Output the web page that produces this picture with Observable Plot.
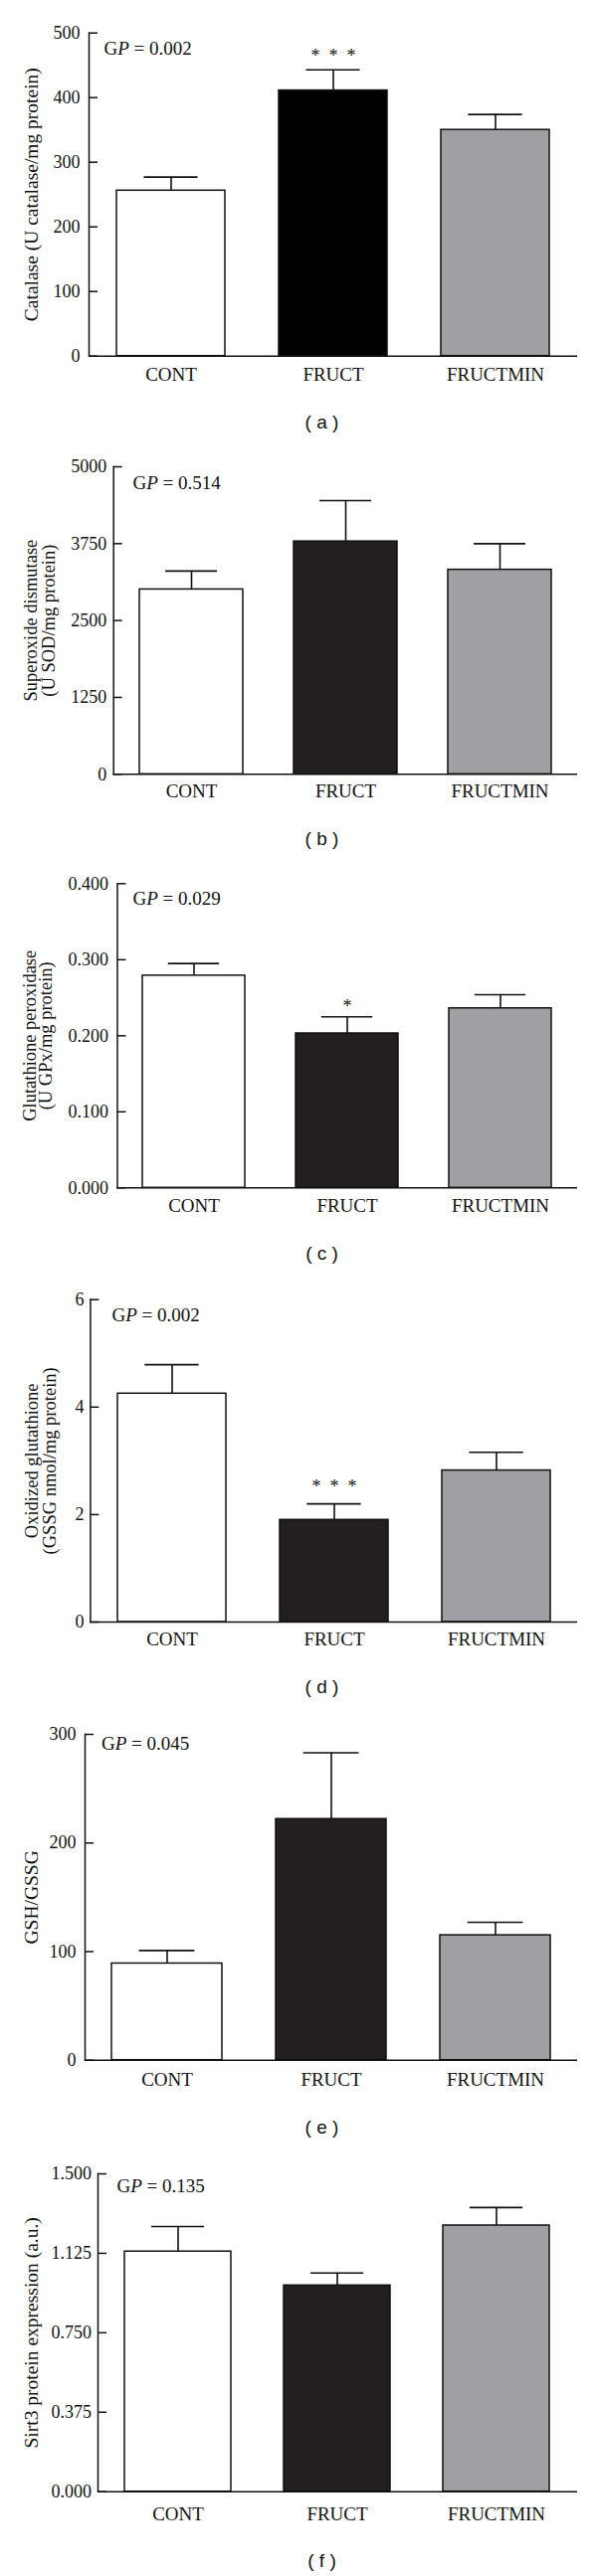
<!DOCTYPE html>
<html>
<head>
<meta charset="utf-8">
<script src="https://cdn.jsdelivr.net/npm/d3@7"></script>
<script src="https://cdn.jsdelivr.net/npm/@observablehq/plot@0.6"></script>
<style>
  body { margin: 0; background: #fff; }
  #chart { width: 600px; }
  #chart svg { display: block; overflow: visible; }
</style>
</head>
<body>
<div id="chart"></div>
<script>
// ---------- DATA ----------
const groups = ["CONT", "FRUCT", "FRUCTMIN"];

const catalaseMean = [256, 411, 350];
const catalaseSem  = [21, 32, 24];
const catalaseTicks = [0, 100, 200, 300, 400, 500];

const sodMean = [3005, 3785, 3325];
const sodSem  = [300, 665, 425];
const sodTicks = [0, 1250, 2500, 3750, 5000];

const gpxMean = [0.279, 0.203, 0.236];
const gpxSem  = [0.016, 0.022, 0.018];
const gpxTicks = [0, 0.1, 0.2, 0.3, 0.4];

const gssgMean = [4.25, 1.90, 2.82];
const gssgSem  = [0.54, 0.30, 0.34];
const gssgTicks = [0, 2, 4, 6];

const ratioMean = [89, 222, 115];
const ratioSem  = [12, 61, 12];
const ratioTicks = [0, 100, 200, 300];

const sirt3Mean = [1.133, 0.973, 1.256];
const sirt3Sem  = [0.118, 0.059, 0.085];
const sirt3Ticks = [0, 0.375, 0.75, 1.125, 1.5];

const yLabels = [
  "Catalase (U catalase/mg protein)",
  "Superoxide dismutase\n(U SOD/mg protein)",
  "Glutathione peroxidase\n(U GPx/mg protein)",
  "Oxidized glutathione\n(GSSG nmol/mg protein)",
  "GSH/GSSG",
  "Sirt3 protein expression (a.u.)"
];
const gpValues = ["0.002", "0.514", "0.029", "0.002", "0.045", "0.135"];
const panelLetters = ["a", "b", "c", "d", "e", "f"];
const stars = ["*  *  *", "", "*", "*  *  *", "", ""];

// ---------- LAYOUT / STYLE ----------
const panels = [
  {mean: catalaseMean, sem: catalaseSem, ticks: catalaseTicks, fmt: d3.format("d"), dark: "#000000",
   h: 440, mt: 32.7, mb: 82.3, ml: 89, labX: 31, labFs: 19.5, lh: 1, gpX: 104, gpY: 48, capY: 424, catOff: 18, starDy: -14, gap: 9},
  {mean: sodMean, sem: sodSem, ticks: sodTicks, fmt: d3.format("d"), dark: "#231f20",
   h: 430, mt: 29, mb: 91.7, ml: 113.7, labX: 40, labFs: 18.5, lh: 0.97, gpX: 133, gpY: 45, capY: 403, catOff: 17, starDy: -14, gap: 7},
  {mean: gpxMean, sem: gpxSem, ticks: gpxTicks, fmt: d3.format(".3f"), dark: "#231f20",
   h: 430, mt: 18.3, mb: 105.7, ml: 117.5, labX: 38.8, labFs: 18.5, lh: 0.85, gpX: 133, gpY: 33.3, capY: 390, catOff: 17.7, starDy: -10, gap: 9},
  {mean: gssgMean, sem: gssgSem, ticks: gssgTicks, fmt: d3.format("d"), dark: "#231f20",
   h: 430, mt: 6.7, mb: 99, ml: 90.4, labX: 40.4, labFs: 18.5, lh: 1.0, gpX: 112, gpY: 22.7, capY: 396.7, catOff: 17, starDy: -17, gap: 6.5},
  {mean: ratioMean, sem: ratioSem, ticks: ratioTicks, fmt: d3.format("d"), dark: "#231f20",
   h: 430, mt: 14, mb: 88.3, ml: 85, labX: 31, labFs: 19.5, lh: 1, gpX: 101.5, gpY: 23.3, capY: 409.3, catOff: 19.3, starDy: -14, gap: 9},
  {mean: sirt3Mean, sem: sirt3Sem, ticks: sirt3Ticks, fmt: d3.format(".3f"), dark: "#231f20",
   h: 431, mt: 26, mb: 85.3, ml: 98, labX: 31, labFs: 19.5, lh: 1, gpX: 117, gpY: 38.3, capY: 415, catOff: 22, starDy: -14, gap: 6.5}
];

const W = 600, MR = 20;
const PI = 0.33, PO = 0.165;
const serif = "'Liberation Serif', 'Times New Roman', serif";
const tickLen = 9;

const chart = document.getElementById("chart");

panels.forEach((p, i) => {
  const data = groups.map((g, j) => ({group: g, mean: p.mean[j], top: p.mean[j] + p.sem[j]}));
  const step = (W - p.ml - MR) / (3 - PI + 2 * PO);
  const bw = step * (1 - PI);
  const ymax = p.ticks[p.ticks.length - 1];

  const marks = [
    Plot.barY(data, {x: "group", y: "mean", fill: "group", stroke: "#111", strokeWidth: 1.5}),
    Plot.ruleX(data, {x: "group", y1: "mean", y2: "top", stroke: "#111", strokeWidth: 1.6}),
    Plot.tickY(data, {x: "group", y: "top", stroke: "#111", strokeWidth: 1.6, insetLeft: bw / 4, insetRight: bw / 4}),
    Plot.frame({anchor: "left", stroke: "#111", strokeWidth: 1.5}),
    Plot.ruleY([0], {stroke: "#111", strokeWidth: 1.5}),
    Plot.axisY({ticks: p.ticks, tickSize: -tickLen, tickPadding: tickLen + p.gap, tickFormat: p.fmt,
      label: null, fontSize: 18, stroke: "#111", strokeWidth: 1.5}),
    Plot.axisX({tickSize: 0, tickPadding: p.catOff - 7, label: null, fontSize: 19}),
    Plot.text([yLabels[i]], {frameAnchor: "left", rotate: -90, dx: p.labX - p.ml,
      textAnchor: "middle", lineAnchor: "middle", lineHeight: p.lh, fontSize: p.labFs, fill: "#111"}),
    Plot.text(["GP = " + gpValues[i]], {frameAnchor: "top-left", dx: p.gpX - p.ml, dy: p.gpY - p.mt,
      textAnchor: "start", lineAnchor: "middle", fontSize: 19, fill: "#111"}),
    Plot.text(["( " + panelLetters[i] + " )"], {frameAnchor: "top-left", dx: 323 - p.ml, dy: p.capY - p.mt,
      textAnchor: "middle", lineAnchor: "middle", fontSize: 19, fontFamily: "'Liberation Sans', Arial, sans-serif", fill: "#111"})
  ];
  if (stars[i]) {
    marks.push(Plot.text(data.filter(d => d.group === "FRUCT"), {x: "group", y: "top", text: () => stars[i],
      dy: p.starDy, textAnchor: "middle", lineAnchor: "middle", fontSize: 18, fill: "#111"}));
  }

  const svg = Plot.plot({
    width: W,
    height: p.h,
    marginTop: p.mt,
    marginBottom: p.mb,
    marginLeft: p.ml,
    marginRight: MR,
    style: {fontFamily: serif, fontSize: "18px", color: "#111", background: "#fff", overflow: "visible"},
    x: {domain: groups, paddingInner: PI, paddingOuter: PO, axis: null},
    y: {domain: [0, ymax], axis: null},
    color: {domain: groups, range: ["#ffffff", p.dark, "#a0a0a4"]},
    marks
  });

  // render "GP" with an italic P
  d3.select(svg).selectAll("text").filter(function () {
    return this.textContent.startsWith("GP = ");
  }).each(function () {
    const t = d3.select(this);
    const rest = this.textContent.slice(2);
    t.text(null);
    t.append("tspan").text("G");
    t.append("tspan").attr("font-style", "italic").text("P");
    t.append("tspan").text(rest);
  });

  chart.appendChild(svg);
});
</script>
</body>
</html>
